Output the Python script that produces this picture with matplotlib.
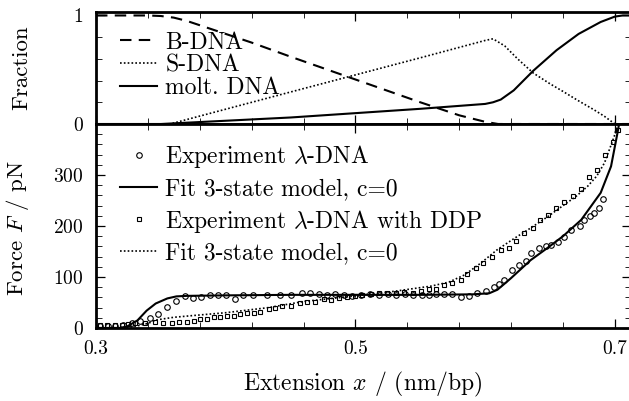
import numpy as np
import matplotlib
matplotlib.use("Agg")
import matplotlib.pyplot as plt
from matplotlib.ticker import FixedLocator, FormatStrFormatter

plt.rcParams['font.family'] = 'serif'
plt.rcParams['font.serif'] = ['cmr10']
plt.rcParams['mathtext.fontset'] = 'cm'
plt.rcParams['axes.formatter.use_mathtext'] = True
plt.rcParams['axes.unicode_minus'] = False

# ---- top panel: state fractions ----
x_b = [0.30, 0.34, 0.35, 0.36, 0.37, 0.38, 0.40, 0.42, 0.45, 0.50, 0.55, 0.58, 0.60, 0.61, 0.62, 0.712]
b_dna = [1.0, 1.0, 0.995, 0.98, 0.95, 0.91, 0.83, 0.75, 0.62, 0.41, 0.20, 0.08, 0.02, 0.0, 0.0, 0.0]

x_s = [0.30, 0.357, 0.45, 0.55, 0.60, 0.606, 0.615, 0.625, 0.637, 0.65, 0.66, 0.671, 0.684, 0.692, 0.70, 0.712]
s_dna = [0.0, 0.0, 0.295, 0.61, 0.77, 0.785, 0.72, 0.60, 0.47, 0.37, 0.30, 0.22, 0.13, 0.07, 0.0, 0.0]

x_m = [0.30, 0.35, 0.45, 0.55, 0.60, 0.606, 0.612, 0.622, 0.637, 0.655, 0.672, 0.689, 0.700, 0.706, 0.712]
molt_dna = [0.0, 0.0, 0.06, 0.14, 0.185, 0.20, 0.225, 0.31, 0.49, 0.68, 0.83, 0.94, 0.99, 1.0, 1.0]

# ---- bottom panel: force-extension ----
x_exp = [0.303, 0.309, 0.315, 0.321, 0.3275, 0.334, 0.3417, 0.348, 0.355, 0.3618, 0.3687, 0.3747,
         0.381, 0.3875, 0.394, 0.4004, 0.4068, 0.4133, 0.421, 0.432, 0.442, 0.4504, 0.4588, 0.4652,
         0.4716, 0.478, 0.4845, 0.491, 0.4974, 0.504, 0.511, 0.518, 0.525, 0.531, 0.538, 0.544,
         0.551, 0.557, 0.5618, 0.5682, 0.5747, 0.5811, 0.5875, 0.594, 0.6004, 0.6068, 0.6107,
         0.6146, 0.621, 0.626, 0.6313, 0.635, 0.6415, 0.647, 0.651, 0.656, 0.6609, 0.6665,
         0.6732, 0.6763, 0.6807, 0.684, 0.6874, 0.6905]
f_exp = [3, 4, 3, 5, 10, 13, 19, 27, 41, 52, 63, 58,
         61, 65, 65, 64, 57, 64, 64, 64, 65, 65, 68, 68,
         67, 65, 67, 65, 63, 65, 66, 64, 66, 65, 66, 64,
         65, 64, 66, 66, 66, 60, 62, 69, 73, 80, 86,
         94, 113, 124, 132, 147, 157, 160, 163, 169, 178, 192,
         200, 211, 219, 226, 235, 253]

x_fit = [0.30, 0.318, 0.324, 0.332, 0.339, 0.346, 0.355, 0.362, 0.37, 0.40, 0.45, 0.50, 0.55, 0.59,
         0.603, 0.6094, 0.615, 0.62, 0.635, 0.648, 0.66, 0.674, 0.689, 0.697, 0.702, 0.706, 0.712]
f_fit = [0, 0, 3, 15, 34, 48, 58, 62, 63, 64, 65, 65, 65, 66,
         68, 75, 87, 98, 133, 157, 180, 212, 265, 317, 383, 440, 540]

x_ddp = [0.3031, 0.3082, 0.3147, 0.3198, 0.325, 0.3301, 0.3378, 0.3456, 0.352, 0.3584, 0.3636, 0.37,
         0.3752, 0.3803, 0.3855, 0.3906, 0.3958, 0.401, 0.4061, 0.4113, 0.4164, 0.4216, 0.4267, 0.433,
         0.4377, 0.4434, 0.4504, 0.457, 0.4627, 0.469, 0.4755, 0.4814, 0.4876, 0.4935, 0.5, 0.505,
         0.512, 0.518, 0.5245, 0.531, 0.5375, 0.544, 0.5505, 0.557, 0.5618, 0.5682, 0.5747, 0.5811,
         0.5862, 0.5927, 0.5986, 0.6056, 0.612, 0.6184, 0.6236, 0.63, 0.6365, 0.6423, 0.6485, 0.6544,
         0.6609, 0.6673, 0.6737, 0.6802, 0.6861, 0.6923, 0.6982, 0.7021]
f_ddp = [5, 5, 5, 5, 8, 10, 10, 12, 10, 10, 12, 12,
         14, 17, 17, 21, 21, 24, 24, 27, 29, 30, 31, 37,
         38.6, 43, 43, 48.5, 51.7, 51.7, 56, 55, 58, 60, 63, 65,
         66, 68, 68, 69.5, 71.5, 69.5, 73.5, 76, 77, 84.5, 88, 94,
         106, 117, 127, 140, 153, 157, 170, 186, 196, 212, 222, 235,
         248, 258, 272, 296, 309, 340, 364, 389]

x_fit_ddp = [0.30, 0.32, 0.33, 0.34, 0.347, 0.36, 0.373, 0.40, 0.433, 0.46, 0.50, 0.53, 0.558, 0.572,
             0.584, 0.597, 0.609, 0.622, 0.635, 0.648, 0.66, 0.67, 0.679, 0.686, 0.692, 0.6995, 0.704, 0.712]
f_fit_ddp = [0, 0, 3, 9, 16, 21, 24, 30, 40, 52, 63, 72, 82, 90,
             104, 128, 153, 175, 196, 218, 240, 258, 278, 298, 324, 376, 420, 520]

W, H = 629, 401
fig = plt.figure(figsize=(W / 100, H / 100), dpi=100)
left = 96 / W
width = (630.5 - 96) / W
ax_top = fig.add_axes([left, 1 - 124 / H, width, 112 / H])
ax_bot = fig.add_axes([left, 1 - 328 / H, width, 204 / H])

lw = 1.5
ax_top.plot(x_b, b_dna, color='black', lw=lw, linestyle=(0, (5.5, 3.5)), label='B-DNA')
ax_top.plot(x_s, s_dna, color='black', lw=1.2, linestyle=(0, (1, 1.3)), label='S-DNA')
ax_top.plot(x_m, molt_dna, color='black', lw=lw, label='molt. DNA')

ax_bot.plot(x_exp, f_exp, 'o', ms=4, mfc='none', mec='black', mew=0.8, label=r'Experiment $\lambda$-DNA')
ax_bot.plot(x_fit, f_fit, color='black', lw=lw, label='Fit 3-state model, c=0')
ax_bot.plot(x_ddp, f_ddp, 's', ms=3.5, mfc='none', mec='black', mew=0.8,
            label=r'Experiment $\lambda$-DNA with DDP')
ax_bot.plot(x_fit_ddp, f_fit_ddp, color='black', lw=1.2, linestyle=(0, (1, 1.3)),
            label='Fit 3-state model, c=0')

xmaj = [0.3, 0.5, 0.7]
xmin = list(np.arange(0.3, 0.7001, 0.04))
for ax in (ax_top, ax_bot):
    ax.set_xlim(0.3, 0.712)
    ax.xaxis.set_major_locator(FixedLocator(xmaj))
    ax.xaxis.set_minor_locator(FixedLocator(xmin))
    ax.tick_params(which='both', direction='in', top=True, right=True, labelsize=14, pad=9)
    ax.tick_params(which='major', length=6.5, width=0.9)
    ax.tick_params(which='minor', length=4, width=0.6)
    for sp in ax.spines.values():
        sp.set_linewidth(2)

ax_top.set_ylim(0, 1.032)
ax_top.yaxis.set_major_locator(FixedLocator([0, 1]))
ax_top.yaxis.set_minor_locator(FixedLocator([0.2, 0.4, 0.6, 0.8]))
ax_top.tick_params(labelbottom=False)
ax_top.set_ylabel('Fraction', fontsize=16.5)
ax_top.yaxis.set_label_coords(-0.122, 0.5)

ax_bot.set_ylim(0, 400)
ax_bot.yaxis.set_major_locator(FixedLocator([0, 100, 200, 300]))
ax_bot.yaxis.set_minor_locator(FixedLocator(list(range(0, 401, 20))))
ax_bot.xaxis.set_major_formatter(FormatStrFormatter('%.1f'))
ax_bot.set_ylabel('Force $F$ / pN', fontsize=16.5)
ax_bot.yaxis.set_label_coords(-0.122, 0.49)
ax_bot.set_xlabel('Extension $x$ / (nm/bp)', fontsize=17, labelpad=8)

leg_kw = dict(loc='upper left', frameon=False, fontsize=17, handlelength=1.57, handletextpad=0.34,
              borderaxespad=0, borderpad=0)
ax_top.legend(bbox_to_anchor=(0.045, 0.826), labelspacing=0.02, **leg_kw)
ax_bot.legend(bbox_to_anchor=(0.045, 0.905), labelspacing=0.32, numpoints=1, **leg_kw)

fig.savefig('out.png', dpi=100)
